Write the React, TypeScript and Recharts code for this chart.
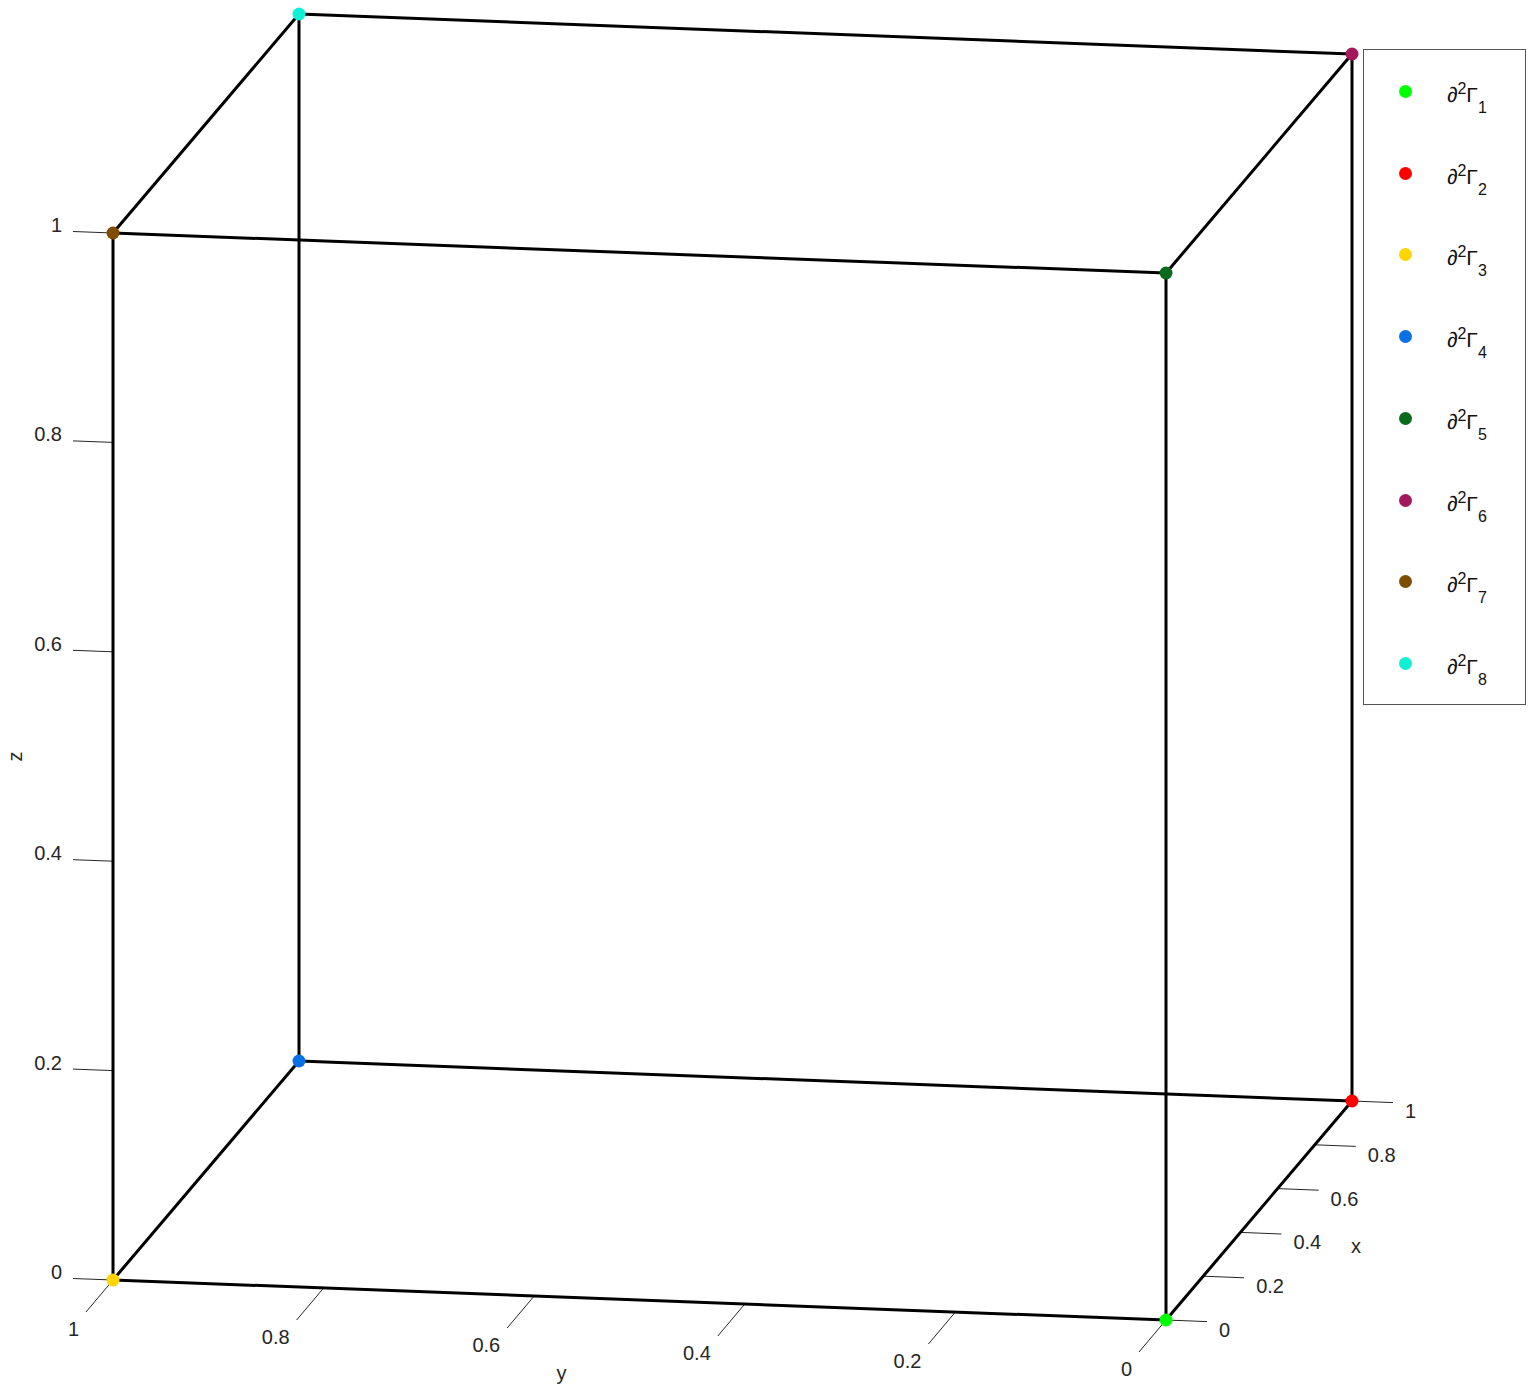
import React from "react";
import {
  ScatterChart,
  Scatter,
  XAxis,
  YAxis,
  ReferenceLine,
} from "recharts";

// corner points of the unit cube, one per boundary piece
const cornerNames = ["1", "2", "3", "4", "5", "6", "7", "8"];
const cornerX = [0, 1, 0, 1, 0, 1, 0, 1];
const cornerY = [0, 0, 1, 1, 0, 0, 1, 1];
const cornerZ = [0, 0, 0, 0, 1, 1, 1, 1];
const cornerColors = [
  "#00ff00",
  "#ff0000",
  "#ffd400",
  "#0a70e6",
  "#0a6b1c",
  "#a3195b",
  "#7f4c00",
  "#10f0d4",
];

// cube edges as pairs of corner indices
const edges: [number, number][] = [
  [0, 1], [2, 3], [0, 2], [1, 3],
  [4, 5], [6, 7], [4, 6], [5, 7],
  [0, 4], [1, 5], [2, 6], [3, 7],
];

const tickValues = [0, 0.2, 0.4, 0.6, 0.8, 1];
const tickLabels = ["0", "0.2", "0.4", "0.6", "0.8", "1"];

const W = 1537;
const H = 1395;
const FONT = "'Liberation Sans', Arial, sans-serif";

// camera: screen position of a 3d point
const project = (x: number, y: number, z: number) => ({
  sx: 1166 + 186 * x - 1053 * y,
  sy: 1320 - 219 * x - 40 * y - 1047 * z,
});

const corners = cornerNames.map((n, i) => ({
  name: n,
  color: cornerColors[i],
  ...project(cornerX[i], cornerY[i], cornerZ[i]),
}));

const zTicks = tickValues.map((v, i) => ({ label: tickLabels[i], ...project(0, 1, v) }));
const yTicks = tickValues.map((v, i) => ({ label: tickLabels[i], ...project(0, v, 0) }));
const xTicks = tickValues.map((v, i) => ({ label: tickLabels[i], ...project(v, 0, 0) }));

const makeLabel =
  (dx: number, dy: number, anchor: string, rotate = 0) =>
  (p: any) => {
    const x = p.cx + dx;
    const y = p.cy + dy;
    return (
      <text
        x={x}
        y={y}
        textAnchor={anchor as any}
        dominantBaseline="central"
        fontFamily={FONT}
        fontSize={20}
        fill="#262626"
        transform={rotate ? `rotate(${rotate} ${x} ${y})` : undefined}
      >
        {p.payload.label}
      </text>
    );
  };

const axisTitles = [
  { label: "z", ...project(0, 1, 0.5), dx: -98, dy: 0, rot: -90 },
  { label: "y", ...project(0, 0.5, 0), dx: -78, dy: 73, rot: 0 },
  { label: "x", ...project(0.5, 0, 0), dx: 97, dy: 35, rot: 0 },
];

const Legend = () => (
  <div
    style={{
      position: "absolute",
      left: 1363,
      top: 49,
      width: 161,
      height: 654,
      border: "1px solid #555",
      background: "#fff",
      fontFamily: FONT,
      fontSize: 21,
      color: "#111",
    }}
  >
    {corners.map((c) => (
      <div
        key={c.name}
        style={{ height: 654 / 8, position: "relative" }}
      >
        <span
          style={{
            position: "absolute",
            left: 35,
            top: 654 / 16 - 6,
            width: 13,
            height: 13,
            borderRadius: "50%",
            background: c.color,
          }}
        />
        <span
          style={{
            position: "absolute",
            left: 83,
            top: 654 / 16 - 13,
            whiteSpace: "nowrap",
            lineHeight: "22px",
          }}
        >
          ∂<sup style={{ fontSize: 16, verticalAlign: 8 }}>2</sup>Γ
          <sub style={{ fontSize: 16, verticalAlign: -11 }}>{c.name}</sub>
        </span>
      </div>
    ))}
  </div>
);

export default function App() {
  return (
    <div style={{ position: "absolute", left: 0, top: 0, width: W, height: H, background: "#fff" }}>
      <ScatterChart width={W} height={H} margin={{ top: 0, right: 0, bottom: 0, left: 0 }}>
        <XAxis type="number" dataKey="sx" domain={[0, W]} hide allowDataOverflow />
        <YAxis type="number" dataKey="sy" domain={[0, H]} reversed hide allowDataOverflow />

        {zTicks.map((t) => (
          <ReferenceLine
            key={"zt" + t.label}
            segment={[
              { x: t.sx, y: t.sy },
              { x: t.sx - 40, y: t.sy - 1.5 },
            ]}
            stroke="#262626"
            strokeWidth={1}
            ifOverflow="visible"
          />
        ))}
        {yTicks.map((t) => (
          <ReferenceLine
            key={"yt" + t.label}
            segment={[
              { x: t.sx, y: t.sy },
              { x: t.sx - 27, y: t.sy + 32 },
            ]}
            stroke="#262626"
            strokeWidth={1}
            ifOverflow="visible"
          />
        ))}
        {xTicks.map((t) => (
          <ReferenceLine
            key={"xt" + t.label}
            segment={[
              { x: t.sx, y: t.sy },
              { x: t.sx + 41, y: t.sy + 1.6 },
            ]}
            stroke="#262626"
            strokeWidth={1}
            ifOverflow="visible"
          />
        ))}

        {edges.map(([a, b]) => (
          <ReferenceLine
            key={`e${a}-${b}`}
            segment={[
              { x: corners[a].sx, y: corners[a].sy },
              { x: corners[b].sx, y: corners[b].sy },
            ]}
            stroke="#000"
            strokeWidth={3}
            ifOverflow="visible"
          />
        ))}

        <Scatter data={zTicks} isAnimationActive={false} shape={makeLabel(-51, -8, "end")} />
        <Scatter data={yTicks} isAnimationActive={false} shape={makeLabel(-34, 49, "end")} />
        <Scatter data={xTicks} isAnimationActive={false} shape={makeLabel(53, 10, "start")} />
        {axisTitles.map((t) => (
          <Scatter
            key={"title" + t.label}
            data={[t]}
            isAnimationActive={false}
            shape={makeLabel(t.dx, t.dy, "middle", t.rot)}
          />
        ))}

        {corners.map((c) => (
          <Scatter
            key={"c" + c.name}
            name={"∂²Γ" + c.name}
            data={[c]}
            isAnimationActive={false}
            shape={(p: any) => <circle cx={p.cx} cy={p.cy} r={6.5} fill={c.color} />}
          />
        ))}
      </ScatterChart>
      <Legend />
    </div>
  );
}
